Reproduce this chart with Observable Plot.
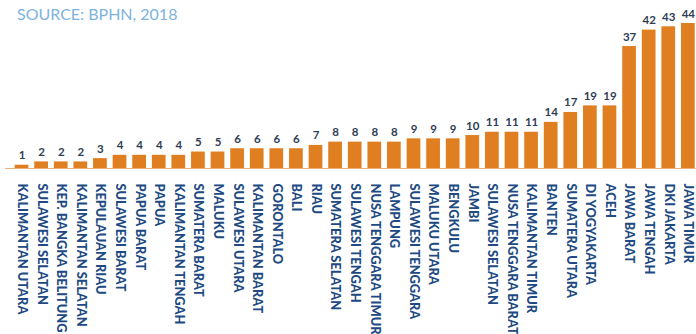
<!DOCTYPE html>
<html>
<head>
<meta charset="utf-8">
<script src="https://cdn.jsdelivr.net/npm/d3@7"></script>
<script src="https://cdn.jsdelivr.net/npm/@observablehq/plot@0.6"></script>
<style>
  html, body { margin: 0; padding: 0; background: #fff; }
  #wrap { position: relative; width: 696px; height: 334px; overflow: hidden; }
  #source { position: absolute; left: 17px; top: 4px; font-family: Lato, sans-serif; font-size: 16px; color: #7db3dd; white-space: nowrap; }
</style>
</head>
<body>
<div id="wrap">
  <div id="chart"></div>
  <div id="source">SOURCE: BPHN, 2018</div>
</div>
<script>
const provinces = [
  "KALIMANTAN UTARA", "SULAWESI SELATAN", "KEP. BANGKA BELITUNG", "KALIMANTAN SELATAN",
  "KEPULAUAN RIAU", "SULAWESI BARAT", "PAPUA BARAT", "PAPUA", "KALIMANTAN TENGAH",
  "SUMATERA BARAT", "MALUKU", "SULAWESI UTARA", "KALIMANTAN BARAT", "GORONTALO", "BALI",
  "RIAU", "SUMATERA SELATAN", "SULAWESI TENGAH", "NUSA TENGGARA TIMUR", "LAMPUNG",
  "SULAWESI TENGGARA", "MALUKU UTARA", "BENGKULU", "JAMBI", "SULAWESI SELATAN",
  "NUSA TENGGARA BARAT", "KALIMANTAN TIMUR", "BANTEN", "SUMATERA UTARA", "DI YOGYAKARTA",
  "ACEH", "JAWA BARAT", "JAWA TENGAH", "DKI JAKARTA", "JAWA TIMUR"
];
const values = [1, 2, 2, 2, 3, 4, 4, 4, 4, 5, 5, 6, 6, 6, 6, 7, 8, 8, 8, 8, 9, 9, 9, 10, 11, 11, 11, 14, 17, 19, 19, 37, 42, 43, 44];

const data = provinces.map((p, i) => ({i, name: p, value: values[i]}));

const chart = Plot.plot({
  width: 696,
  height: 334,
  marginLeft: 13.7,
  marginRight: 0.3,
  marginTop: 23,
  marginBottom: 166,
  style: {fontFamily: "Lato, sans-serif", background: "transparent"},
  x: {type: "band", domain: d3.range(provinces.length), paddingInner: 0.3, paddingOuter: 0.05, round: false, axis: null},
  y: {domain: [0, 44], axis: null},
  marks: [
    Plot.barY(data, {x: "i", y: "value", fill: "#e07f22"}),
    Plot.ruleY([0], {stroke: "#e9b27c", strokeWidth: 1.2, insetLeft: -8.7}),
    Plot.text(data, {x: "i", y: "value", text: d => String(d.value), lineAnchor: "bottom", dy: -6,
      fill: "#2f3d55", fontSize: 11.5, fontWeight: "bold"}),
    Plot.axisX({domain: d3.range(provinces.length), tickFormat: i => provinces[i], tickRotate: 90,
      textAnchor: "start", tickSize: 0, tickPadding: 15, fontSize: 12.8, fontWeight: 900,
      label: null, fill: "#214a82", color: "#214a82"})
  ]
});
document.getElementById("chart").appendChild(chart);
</script>
</body>
</html>
